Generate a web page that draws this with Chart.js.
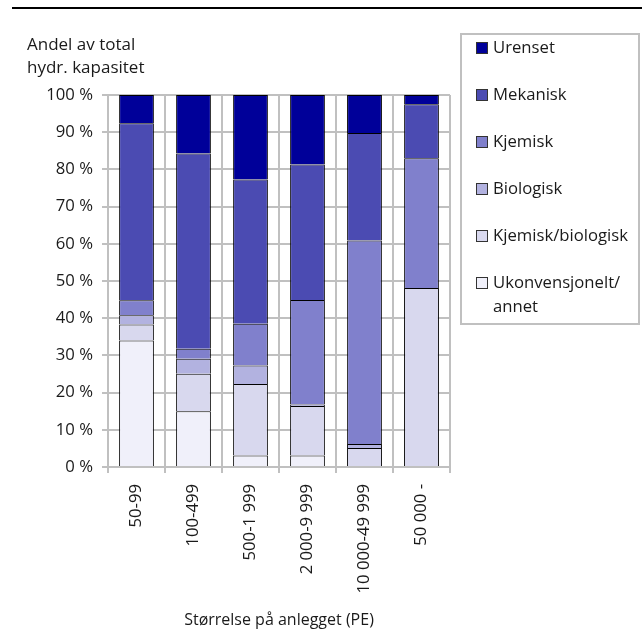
<!DOCTYPE html>
<html>
<head>
<meta charset="utf-8">
<script src="https://cdn.jsdelivr.net/npm/chart.js@4"></script>
<style>
  html, body { margin: 0; padding: 0; background: #fff; }
  #wrap { position: relative; width: 642px; height: 631px; }
</style>
</head>
<body>
<div id="wrap"><canvas id="chart" width="642" height="631"></canvas></div>
<script>
// data (percent of total hydraulic capacity)
const categories = ['50-99', '100-499', '500-1 999', '2 000-9 999', '10 000-49 999', '50 000 -'];
const ukonvensjonelt = [34.0, 15.0, 3.1, 3.1, 0, 0];
const kjemiskBiologisk = [4.3, 10.1, 19.2, 13.3, 5.1, 48.1];
const biologisk = [2.5, 4.0, 5.0, 0.4, 1.1, 0];
const kjemisk = [4.0, 2.7, 11.2, 28.1, 54.7, 34.9];
const mekanisk = [47.6, 52.5, 38.8, 36.4, 28.9, 14.5];
const urenset = [7.6, 15.7, 22.7, 18.7, 10.2, 2.5];
const yTitle = ['Andel av total', 'hydr. kapasitet'];
const xTitle = 'Størrelse på anlegget (PE)';

const FONT = '"Open Sans", "DejaVu Sans", sans-serif';
const TEXT = '#1a1a1a';
const GRID = '#c0c0c0';

const series = [
  { label: 'Ukonvensjonelt/annet', data: ukonvensjonelt, color: '#f0f0fa' },
  { label: 'Kjemisk/biologisk', data: kjemiskBiologisk, color: '#d8d8ee' },
  { label: 'Biologisk', data: biologisk, color: '#b2b2e0' },
  { label: 'Kjemisk', data: kjemisk, color: '#8080cc' },
  { label: 'Mekanisk', data: mekanisk, color: '#4b4bb2' },
  { label: 'Urenset', data: urenset, color: '#000099' }
];

// titles, top rule and boxed legend
const decorations = {
  id: 'decorations',
  afterDraw(chart) {
    const ctx = chart.ctx;
    const area = chart.chartArea;
    ctx.save();
    ctx.strokeStyle = '#000';
    ctx.lineWidth = 2;
    ctx.beginPath();
    ctx.moveTo(12, 8);
    ctx.lineTo(642, 8);
    ctx.stroke();

    ctx.fillStyle = TEXT;
    ctx.font = '17px ' + FONT;
    ctx.textBaseline = 'middle';
    ctx.textAlign = 'left';
    ctx.fillText(yTitle[0], 27, 45);
    ctx.fillText(yTitle[1], 27, 68);
    ctx.font = '16px ' + FONT;
    ctx.textAlign = 'center';
    ctx.fillText(xTitle, (area.left + area.right) / 2, 620);

    // legend
    ctx.font = '16.7px ' + FONT;
    ctx.strokeStyle = GRID;
    ctx.lineWidth = 2;
    ctx.strokeRect(461, 34, 178, 290);
    ctx.textAlign = 'left';
    let y = 48;
    chart.data.datasets.slice().reverse().forEach(ds => {
      ctx.fillStyle = ds.backgroundColor;
      ctx.fillRect(476, y - 6, 12, 12);
      ctx.strokeStyle = '#333';
      ctx.lineWidth = 1;
      ctx.strokeRect(476.5, y - 5.5, 11, 11);
      ctx.fillStyle = TEXT;
      let lines = [ds.label];
      if (ctx.measureText(ds.label).width > 140 && ds.label.includes('/')) {
        const i = ds.label.indexOf('/') + 1;
        lines = [ds.label.slice(0, i), ds.label.slice(i)];
      }
      lines.forEach((t, k) => ctx.fillText(t, 493, y + k * 24));
      y += 47;
    });
    ctx.restore();
  }
};

new Chart(document.getElementById('chart'), {
  type: 'bar',
  data: {
    labels: categories,
    datasets: series.map(s => ({
      label: s.label,
      data: s.data,
      backgroundColor: s.color,
      borderColor: '#000',
      borderWidth: 1,
      borderSkipped: 'start',
      barPercentage: 0.61,
      categoryPercentage: 1
    }))
  },
  options: {
    responsive: false,
    animation: false,
    devicePixelRatio: 1,
    layout: { padding: { top: 95, right: 192, left: 0, bottom: 0 } },
    plugins: { legend: { display: false }, tooltip: { enabled: false } },
    scales: {
      x: {
        stacked: true,
        grid: { offset: true, color: GRID, lineWidth: 2, tickLength: 6 },
        border: { color: GRID, width: 2 },
        ticks: {
          minRotation: 90, maxRotation: 90, padding: 11,
          color: TEXT, font: { family: FONT, size: 16.7 }
        },
        afterFit: s => { s.height = 631 - 467; }
      },
      y: {
        stacked: true,
        min: 0,
        max: 100,
        grid: { color: GRID, lineWidth: 2, tickLength: 6 },
        border: { color: GRID, width: 2 },
        ticks: {
          stepSize: 10, padding: 9,
          color: TEXT, font: { family: FONT, size: 16.7 },
          callback: v => v + ' %'
        },
        afterFit: s => { s.width = 108; }
      }
    }
  },
  plugins: [decorations]
});
</script>
</body>
</html>
